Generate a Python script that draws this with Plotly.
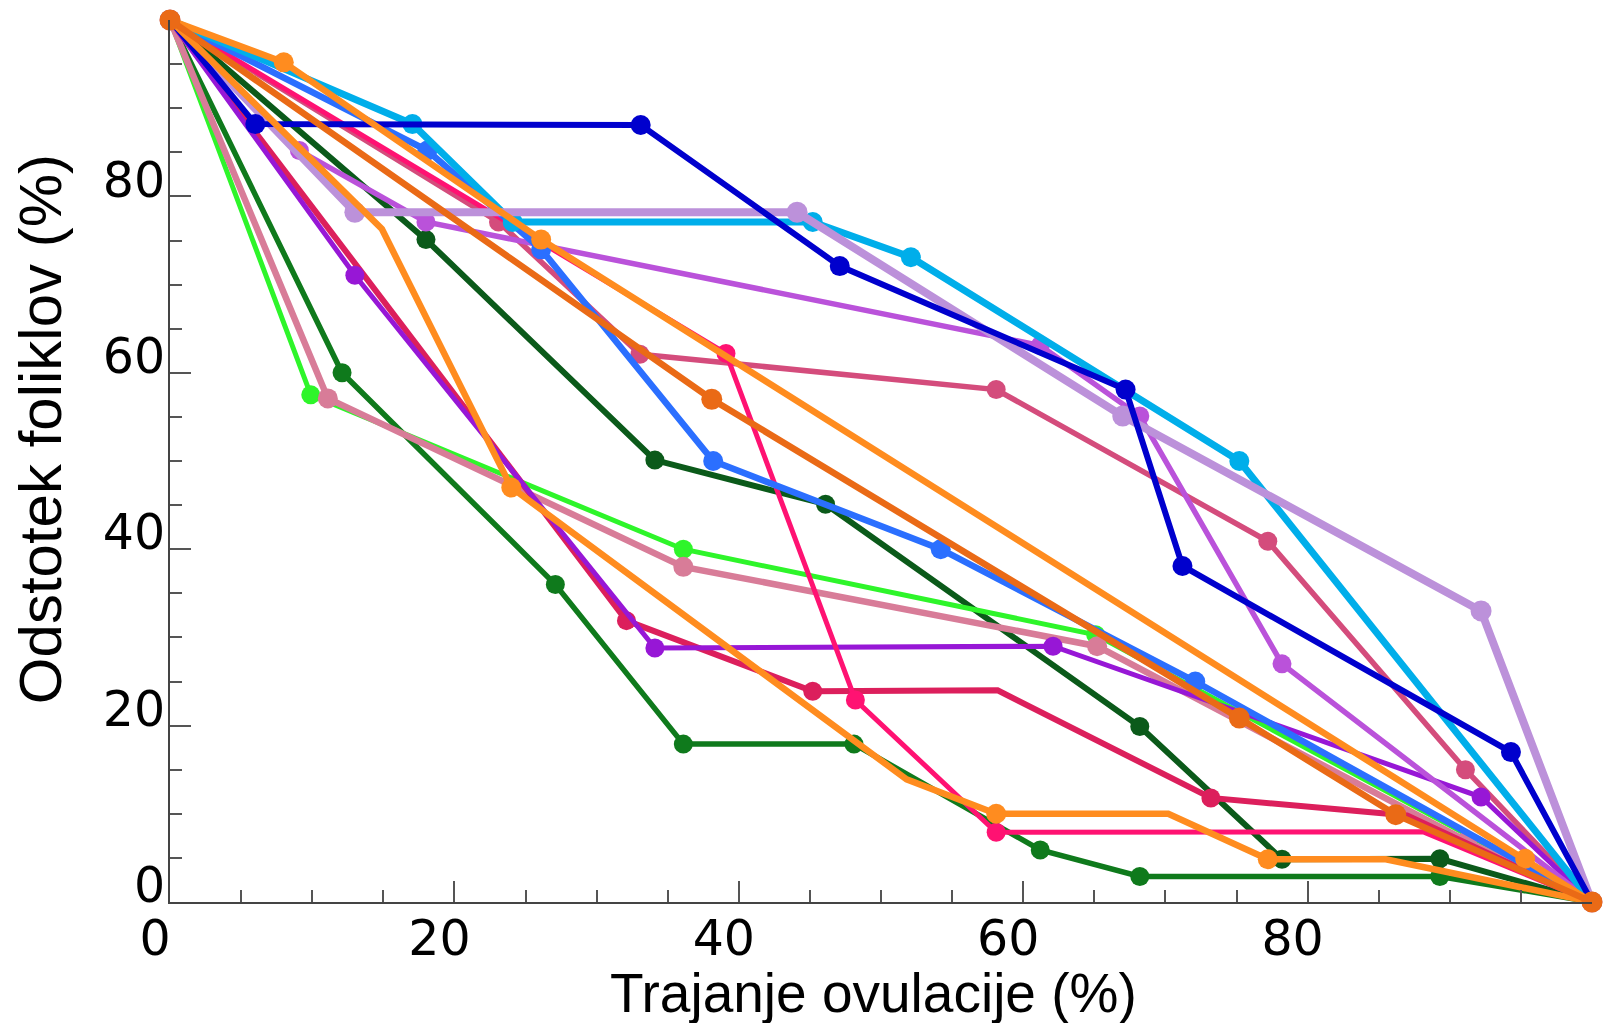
import plotly.graph_objects as go

# ---- data ----
dark_blue_x = [0, 6.0, 33.1, 47.1, 67.2, 71.2, 94.3, 100]
dark_blue_y = [100, 88.2, 88.1, 72.1, 58.1, 38.1, 17.0, 0]

sky_blue_x = [0, 17.05, 24.1, 45.2, 52.1, 75.2, 100]
sky_blue_y = [100, 88.2, 77.1, 77.1, 73.1, 50.0, 0]

medium_blue_x = [0, 18.1, 26.1, 38.2, 54.2, 72.1, 100]
medium_blue_y = [100, 85.2, 74.0, 50.0, 40.0, 25.0, 0]

lavender_x = [0, 13.0, 44.1, 67.0, 92.2, 100]
lavender_y = [100, 78.2, 78.2, 55.1, 33.0, 0]

orchid_x = [0, 9.1, 18.0, 61.2, 68.2, 78.2, 100]
orchid_y = [100, 85.2, 77.1, 63.1, 55.1, 27.0, 0]

violet_x = [0, 13.0, 34.1, 62.1, 92.2, 100]
violet_y = [100, 71.05, 28.8, 29.0, 11.9, 0]

dark_green_x = [0, 18.0, 34.1, 46.1, 68.2, 78.2, 89.3, 100]
dark_green_y = [100, 75.1, 50.1, 45.1, 19.9, 4.85, 4.9, 0]

green_x = [0, 12.1, 27.1, 36.1, 48.1, 61.2, 68.2, 89.3, 100]
green_y = [100, 60.0, 36.0, 17.9, 17.9, 5.9, 2.9, 2.9, 0]

bright_green_x = [0, 9.9, 36.1, 65.1, 100]
bright_green_y = [100, 57.5, 40.0, 30.3, 0]

pink_x = [0, 11.1, 36.1, 65.2, 91.2, 100]
pink_y = [100, 57.1, 38.0, 29.0, 6.9, 0]

rose_x = [0, 23.1, 33.05, 58.1, 77.2, 91.1, 100]
rose_y = [100, 77.1, 62.1, 58.1, 40.9, 15.0, 0]

crimson_x = [0, 32.1, 45.2, 58.2, 73.2, 87.0, 100]
crimson_y = [100, 31.9, 23.9, 24.0, 11.8, 9.8, 0]

hot_pink_x = [0, 39.1, 48.2, 58.1, 88.1, 100]
hot_pink_y = [100, 62.2, 22.9, 7.9, 7.97, 0]

orange_a_x = [0, 8.0, 26.1, 95.3, 100]
orange_a_y = [100, 95.2, 75.1, 4.9, 0]

orange_b_x = [0, 14.9, 24.0, 51.8, 58.1, 70.2, 77.2, 85.5, 100]
orange_b_y = [100, 76.3, 47.0, 13.9, 10.0, 10.0, 4.85, 4.85, 0]

dark_orange_x = [0, 38.1, 75.2, 86.2, 100]
dark_orange_y = [100, 57.0, 20.85, 9.9, 0]

x_tick_labels = ["0", "20", "40", "60", "80"]
y_tick_labels = ["0", "20", "40", "60", "80"]
x_title = "Trajanje ovulacije (%)"
y_title = "Odstotek foliklov (%)"

# ---- styling (kept separate from data) ----
series = [
    # name, x, y, color, line width, marker size, vertices without a dot
    ("green", green_x, green_y, "#0F7A1C", 5.5, 19, []),
    ("dark_green", dark_green_x, dark_green_y, "#0B5A1A", 6, 19, []),
    ("bright_green", bright_green_x, bright_green_y, "#2EF52A", 5, 19, []),
    ("pink", pink_x, pink_y, "#D87C98", 6.5, 20, []),
    ("rose", rose_x, rose_y, "#D44C7C", 5.5, 19, []),
    ("crimson", crimson_x, crimson_y, "#DC1F5C", 6, 19, [3, 5]),
    ("violet", violet_x, violet_y, "#9717D6", 5, 19, []),
    ("orchid", orchid_x, orchid_y, "#BA52DA", 5.5, 19, []),
    ("hot_pink", hot_pink_x, hot_pink_y, "#FF1272", 5, 19, [4]),
    ("medium_blue", medium_blue_x, medium_blue_y, "#2B6FFF", 6.5, 20, []),
    ("sky_blue", sky_blue_x, sky_blue_y, "#00AEEA", 7, 20, []),
    ("lavender", lavender_x, lavender_y, "#BC91DA", 8, 21, []),
    ("dark_blue", dark_blue_x, dark_blue_y, "#0000CD", 6, 20, []),
    ("orange_b", orange_b_x, orange_b_y, "#FF8C1F", 6.5, 20, [1, 3, 5, 7]),
    ("orange_a", orange_a_x, orange_a_y, "#FF8C1F", 6.5, 20, []),
    ("dark_orange", dark_orange_x, dark_orange_y, "#EA6A16", 6.5, 21, []),
]

fig = go.Figure()
for name, xs, ys, color, lw, ms, hidden in series:
    sizes = [0 if i in hidden else ms for i in range(len(xs))]
    fig.add_trace(go.Scatter(
        x=xs, y=ys, name=name, mode="lines+markers",
        line=dict(color=color, width=lw),
        marker=dict(color=color, size=sizes, opacity=1, line=dict(width=0)),
        cliponaxis=False,
    ))

tick_font = dict(family="DejaVu Sans", size=49, color="black")
major_vals = [0, 20, 40, 60, 80]
minor_vals = [v for v in range(5, 101, 5) if v not in major_vals]

axis_common = dict(
    range=[0, 100], showgrid=False, zeroline=False,
    showline=True, linecolor="#444444", linewidth=2,
    ticks="inside", ticklen=21, tickwidth=2, tickcolor="#555555",
    tickmode="array", tickvals=major_vals,
    minor=dict(tickmode="array", tickvals=minor_vals, ticks="inside",
               ticklen=12, tickwidth=2, tickcolor="#555555", showgrid=False),
    tickfont=tick_font,
)

fig.update_xaxes(**axis_common, ticktext=x_tick_labels,
                 ticklabelstandoff=-8, ticklabelshift=-15)
fig.update_yaxes(**axis_common, ticktext=y_tick_labels,
                 ticklabelstandoff=-7, ticklabelshift=-17)

# page body has an 8px default margin, so the figure is 8px smaller
fig.update_layout(
    width=1605, height=1015,
    margin=dict(l=162, r=21, t=12, b=121),
    plot_bgcolor="white", paper_bgcolor="white",
    showlegend=False,
    annotations=[
        dict(text=x_title, xref="paper", yref="paper", x=0.495, y=-0.1035,
             xanchor="center", yanchor="middle", showarrow=False,
             font=dict(family="Liberation Sans", size=55, color="black")),
        dict(text=y_title, xref="paper", yref="paper", x=-0.0915, y=0.536,
             xanchor="center", yanchor="middle", showarrow=False, textangle=-90,
             font=dict(family="Liberation Sans", size=60, color="black")),
    ],
)

fig.write_html("out.html")
